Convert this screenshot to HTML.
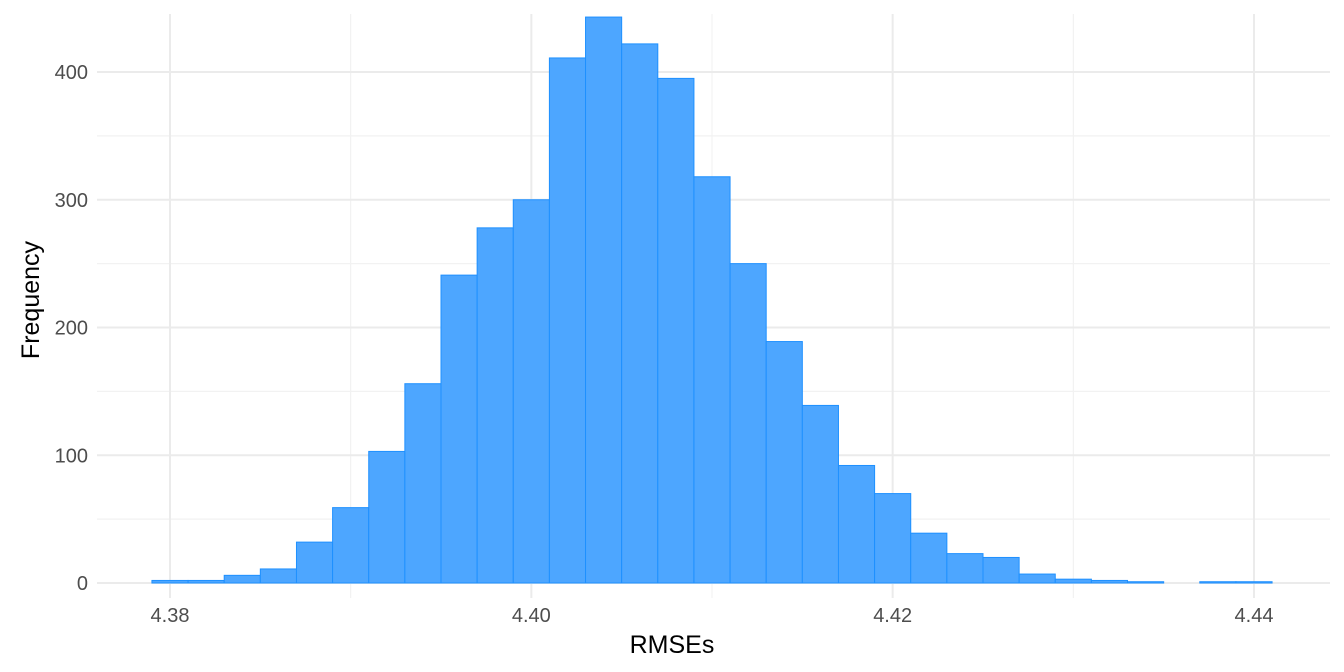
<!DOCTYPE html>
<html><head><meta charset="utf-8"><style>
body{margin:0;background:#fff;}
svg{display:block;font-family:"Liberation Sans",sans-serif;}
</style></head><body>
<svg id="chart" width="1344" height="672">
<g id="grid"></g><g id="bars"></g><g id="axes"></g>
<text x="672" y="653" text-anchor="middle" font-size="25" fill="#000">RMSEs</text>
<text transform="translate(39,300) rotate(-90)" text-anchor="middle" font-size="25" fill="#000">Frequency</text>
</svg>
<script>
const binStart = 4.379;
const binWidth = 0.002;
const counts = [2,2,6,11,32,59,103,156,241,278,300,411,443,422,395,318,250,189,139,92,70,39,23,20,7,3,2,1,0,1,1];
const xTicks = [4.38,4.40,4.42,4.44];
const xMinor = [4.39,4.41,4.43];
const yTicks = [0,100,200,300,400];
const yMinor = [50,150,250,350];
const NS="http://www.w3.org/2000/svg";
const X0=97,X1=1330,Y0=14,Y1=598;
function sx(v){return 170+(v-4.38)*18066.7;}
function sy(v){return 583-v*1.2775;}
const grid=document.getElementById('grid'),bars=document.getElementById('bars'),axes=document.getElementById('axes');
function line(p,x1,y1,x2,y2,c,w,name){const l=document.createElementNS(NS,'line');l.setAttribute('x1',x1);l.setAttribute('y1',y1);l.setAttribute('x2',x2);l.setAttribute('y2',y2);l.setAttribute('stroke',c);l.setAttribute('stroke-width',w);


p.appendChild(l);}
xMinor.forEach(v=>line(grid,sx(v),Y0,sx(v),Y1,'#f2f2f2',1.2,'x-minor-gridline'));
yMinor.forEach(v=>line(grid,X0,sy(v),X1,sy(v),'#f2f2f2',1.2,'y-minor-gridline'));
xTicks.forEach(v=>line(grid,sx(v),Y0,sx(v),Y1,'#ebebeb',2,'x-major-gridline'));
yTicks.forEach(v=>line(grid,X0,sy(v),X1,sy(v),'#ebebeb',2,'y-major-gridline'));
counts.forEach((c,i)=>{const a=sx(binStart+i*binWidth),b=sx(binStart+(i+1)*binWidth);const r=document.createElementNS(NS,'rect');
r.setAttribute('x',a);r.setAttribute('y',sy(c));r.setAttribute('width',b-a);r.setAttribute('height',sy(0)-sy(c));
r.setAttribute('fill','#4da6ff');r.setAttribute('stroke','#1e90ff');r.setAttribute('stroke-width','1');


bars.appendChild(r);});
function text(x,y,s,anchor,name){const t=document.createElementNS(NS,'text');t.setAttribute('x',x);t.setAttribute('y',y);t.setAttribute('text-anchor',anchor);t.setAttribute('font-size','20');t.setAttribute('fill','#4d4d4d');t.textContent=s;


axes.appendChild(t);}
xTicks.forEach(v=>text(sx(v),622,v.toFixed(2),'middle','x-tick-label'));
yTicks.forEach(v=>text(88,sy(v)+7,String(v),'end','y-tick-label'));
</script>
</body></html>
